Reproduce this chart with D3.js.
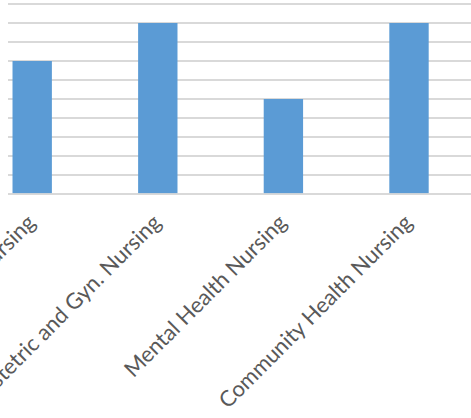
<!DOCTYPE html>
<html>
<head>
<meta charset="utf-8">
<script src="https://cdn.jsdelivr.net/npm/d3@7"></script>
<style>
  html, body { margin: 0; padding: 0; background: #fff; }
  svg { display: block; }
</style>
</head>
<body>
<svg id="chart" width="471" height="418"></svg>
<script>
const categories = ["Child Health Nursing", "Obstetric and Gyn. Nursing", "Mental Health Nursing", "Community Health Nursing"];
const values = [7, 9, 5, 9];
const yTicks = [0, 1, 2, 3, 4, 5, 6, 7, 8, 9, 10];

const svg = d3.select("#chart");
const W = 471, H = 418;

const x = d3.scaleBand().domain(categories).range([-30.6, 471.8]).paddingInner(0.6865).paddingOuter(0.34325);
const y = d3.scaleLinear().domain([0, 10]).range([194, 4]);

// gridlines
svg.append("g").selectAll("line").data(yTicks).join("line")
  .attr("x1", 8).attr("x2", W)
  .attr("y1", d => y(d)).attr("y2", d => y(d))
  .attr("stroke", "#d9d9d9").attr("stroke-width", 1.8);

// bars
svg.append("g").selectAll("rect").data(values).join("rect")
  .attr("x", (d, i) => x(categories[i]))
  .attr("width", x.bandwidth())
  .attr("y", d => y(d))
  .attr("height", d => y(0) - y(d) - 0.9)
  .attr("fill", "#5b9bd5");

// category labels
const labels = svg.append("g").selectAll("text").data(categories).join("text")
  .attr("transform", d => `translate(${x(d) + x.bandwidth() / 2 + 4.5},${224}) rotate(-45)`)
  .attr("text-anchor", "end")
  .attr("font-family", "Lato, 'Open Sans', sans-serif")
  .attr("font-size", 20)
  .attr("fill", "#595959")
  .text(d => d);

// fit the font size so the label lengths match the reference's Calibri 18pt labels
const n = labels.nodes();
const l2 = n[2].getComputedTextLength(), l3 = n[3].getComputedTextLength();
const fs = 20 * (226 + 255) / (l2 + l3);
labels.attr("font-size", fs);
</script>
</body>
</html>
